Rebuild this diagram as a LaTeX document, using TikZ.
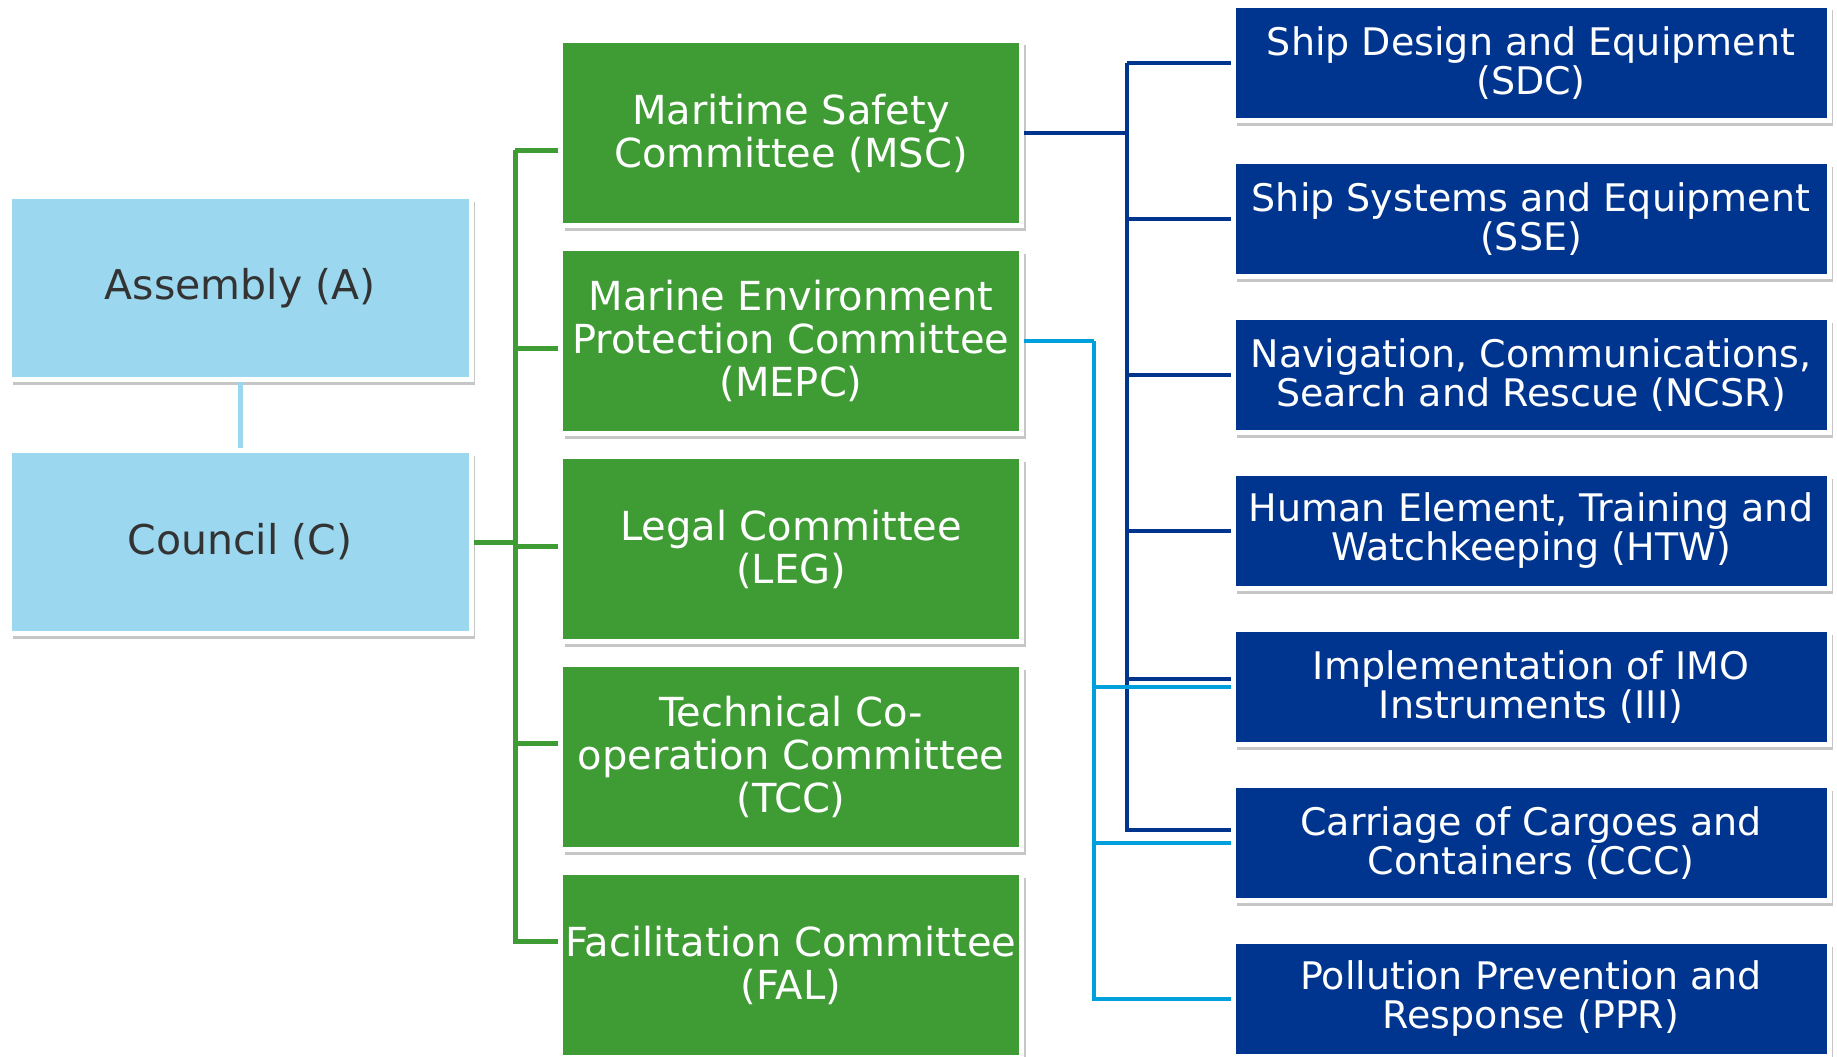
\documentclass[tikz,border=0pt]{standalone}
\usepackage{fontspec}
\setmainfont{DejaVu Sans}
\usetikzlibrary{shadows}
\definecolor{imogreen}{HTML}{3F9C35}
\definecolor{imonavy}{HTML}{00358F}
\definecolor{imosky}{HTML}{9BD7EF}
\definecolor{imocyan}{HTML}{00A0DD}
\definecolor{imogrey}{HTML}{333333}
\tikzset{
  box/.style={rectangle, draw=white, line width=5pt, align=center, inner sep=0pt,
    drop shadow={shadow xshift=4pt, shadow yshift=-5pt, opacity=.45}},
  organ/.style={box, fill=imosky, text=imogrey, minimum width=462pt,
    minimum height=183pt, font=\fontsize{41}{45}\selectfont},
  cttee/.style={box, fill=imogreen, text=white, minimum width=461pt,
    minimum height=185pt, font=\fontsize{40}{43}\selectfont},
  subcttee/.style={box, fill=imonavy, text=white, minimum width=596pt,
    minimum height=115pt, font=\fontsize{38}{39}\selectfont},
  greenline/.style={imogreen, line width=5pt},
  navyline/.style={imonavy, line width=4pt},
  cyanline/.style={imocyan, line width=4pt}
}

\begin{document}
\begin{tikzpicture}[x=1pt,y=-1pt]
  \useasboundingbox (0,0) rectangle (1837,1057);
  % connector ends on the trunks
  \coordinate (gt) at (515,150);
  \coordinate (gb) at (515,941);
  \coordinate (nt) at (1127,63);
  \coordinate (ct) at (1094,341);

  % governing bodies
  \node[organ] (A) at (240,288) {Assembly (A)};
  \node[organ] (C) at (240,542) {Council (C)};
  \draw[imosky, line width=5pt] (A) -- (C);

  % committees
  \node[cttee] (MSC)  at (791,133) {Maritime Safety\\Committee (MSC)};
  \node[cttee] (MEPC) at (791,341) {Marine Environment\\Protection Committee\\(MEPC)};
  \node[cttee] (LEG)  at (791,549) {Legal Committee\\(LEG)};
  \node[cttee] (TCC)  at (791,757) {Technical Co-\\operation Committee\\(TCC)};
  \node[cttee] (FAL)  at (791,965) {Facilitation Committee\\(FAL)};

  % sub-committees
  \node[subcttee] (SDC)  at (1531,63)  {Ship Design and Equipment\\(SDC)};
  \node[subcttee] (SSE)  at (1531,219) {Ship Systems and Equipment\\(SSE)};
  \node[subcttee] (NCSR) at (1531,375) {Navigation, Communications,\\Search and Rescue (NCSR)};
  \node[subcttee] (HTW)  at (1531,531) {Human Element, Training and\\Watchkeeping (HTW)};
  \node[subcttee] (III)  at (1531,687) {Implementation of IMO\\Instruments (III)};
  \node[subcttee] (CCC)  at (1531,843) {Carriage of Cargoes and\\Containers (CCC)};
  \node[subcttee] (PPR)  at (1531,999) {Pollution Prevention and\\Response (PPR)};

  % council to committees
  \draw[greenline] (gt) -- (gb);
  \draw[greenline] (C.east) -- (C.east -| gt);
  \foreach \n/\dy in {MSC/-17,MEPC/-7,LEG/3,TCC/14,FAL/24}
    \draw[greenline] ([yshift=\dy pt]\n.west) -| (gt);

  % MSC sub-committees
  \draw[navyline] (MSC.east) -| (nt);
  \foreach \n in {SDC,SSE,NCSR,HTW}
    \draw[navyline] (\n.west) -| (nt);
  \draw[navyline] ([yshift=8pt]III.west) -| (nt);
  \draw[navyline] ([yshift=13pt]CCC.west) -| (nt);

  % MEPC sub-committees
  \draw[cyanline] (MEPC.east) -| (ct);
  \foreach \n in {III,CCC,PPR}
    \draw[cyanline] (\n.west) -| (ct);
\end{tikzpicture}
\end{document}
